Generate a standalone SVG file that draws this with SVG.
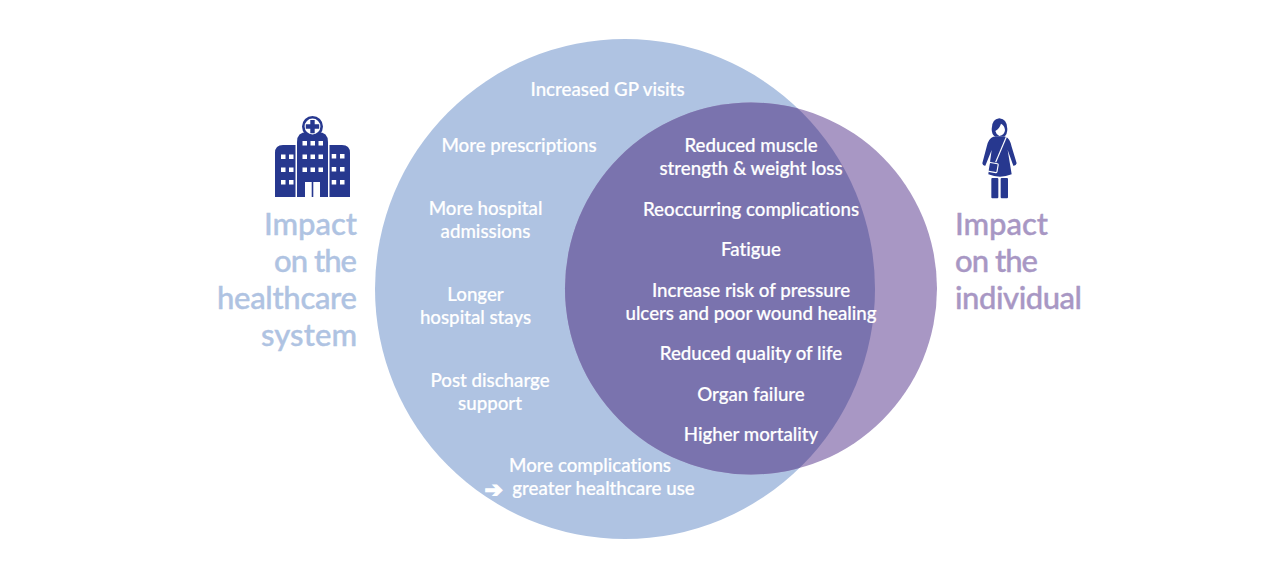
<svg xmlns="http://www.w3.org/2000/svg" width="1280" height="575" viewBox="0 0 1280 575">
<style>
text{font-family:Lato,"Noto Sans","Liberation Sans",sans-serif;font-variant-ligatures:none}
.l{fill:#fff;stroke:#fff;stroke-width:.2px;font-size:18.7px;font-weight:500;text-anchor:middle}
.ta{fill:#afc3e2;stroke:#afc3e2;stroke-width:.4px;font-size:31px;font-weight:500}
.tb{fill:#a897c4;stroke:#a897c4;stroke-width:.4px;font-size:31px;font-weight:500}
.ic{fill:#27388f}
</style>
<defs>
<clipPath id="cb"><circle cx="625" cy="289" r="250"/></clipPath>
</defs>
<rect width="1280" height="575" fill="#fff"/>
<g id="venn">
<circle id="healthcare-circle" cx="625" cy="289" r="250" fill="#afc3e2"/>
<circle id="individual-circle" cx="751" cy="288.500" r="186" fill="#a897c4"/>
<circle id="overlap" cx="751" cy="288.500" r="186" fill="#7a73ae" clip-path="url(#cb)"/>
</g>
<g id="connectors"/>
<g id="hospital-icon">
<path class="ic" d="M275 197V153q0-8 8-8h12.500v52zM350 197V153q0-8-8-8h-12.500v52z"/>
<path class="ic" d="M297 197V142q0-10 10-10h11q10 0 10 10v55z"/>
<circle cx="312.500" cy="126.500" r="9.200" fill="#fff" stroke="#27388f" stroke-width="2.600"/>
<path class="ic" d="M310.300 120h4.400v4.300h4.500v4.400h-4.500v4.600h-4.400v-4.600h-4.500v-4.400h4.500z"/>
<g fill="#fff">
<rect x="281" y="154.500" width="4.500" height="4.500"/><rect x="289" y="154.500" width="4.500" height="4.500"/>
<rect x="281" y="167.500" width="4.500" height="4.500"/><rect x="289" y="167.500" width="4.500" height="4.500"/>
<rect x="281" y="180" width="4.500" height="4.500"/><rect x="289" y="180" width="4.500" height="4.500"/>
<rect x="331.700" y="154" width="4.500" height="4.500"/><rect x="340" y="154" width="4.500" height="4.500"/>
<rect x="331.700" y="167" width="4.500" height="4.500"/><rect x="340" y="167" width="4.500" height="4.500"/>
<rect x="331.700" y="180" width="4.500" height="4.500"/><rect x="340" y="180" width="4.500" height="4.500"/>
<rect x="302.500" y="141" width="4.500" height="4.500"/><rect x="310.500" y="141" width="4.500" height="4.500"/><rect x="318.500" y="141" width="4.500" height="4.500"/>
<rect x="302.500" y="154.500" width="4.500" height="4.500"/><rect x="310.500" y="154.500" width="4.500" height="4.500"/><rect x="318.500" y="154.500" width="4.500" height="4.500"/>
<rect x="302.500" y="167.500" width="4.500" height="4.500"/><rect x="310.500" y="167.500" width="4.500" height="4.500"/><rect x="318.500" y="167.500" width="4.500" height="4.500"/>
<rect x="305" y="182" width="6.700" height="15"/><rect x="313.300" y="182" width="6.700" height="15"/>
</g>
</g>
<g id="person-icon" transform="translate(960 105) scale(.33333)">
<path class="ic" d="M100 95Q85 100 80 125L67 175Q68 183 76 182L95 135 85 208Q120 222 155 208L143 135 160 182Q168 183 170 175L155 125Q150 100 137 95Z"/>
<path class="ic" d="M118 40Q95 42 95 72 95 88 105 95H133Q142 88 142 72 142 42 118 40Z"/>
<path fill="#fff" d="M123 56Q133 60 135 75 134 90 118 93 108 88 106 78 118 72 123 56Z"/>
<rect class="ic" x="94" y="219" width="21" height="61" rx="3"/>
<rect class="ic" x="122" y="219" width="22" height="61" rx="3"/>
<path d="M139 96 107 172" stroke="#fff" stroke-width="3.500" fill="none"/>
<rect x="86" y="174" width="27" height="27" rx="3" class="ic" stroke="#fff" stroke-width="3.500" transform="rotate(10 99 187)"/>
</g>
<g id="label-healthcare">
<text class="ta" x="264" y="235" textLength="93">Impact</text>
<text class="ta" x="274" y="272" textLength="83">on the</text>
<text class="ta" x="217" y="309" textLength="140">healthcare</text>
<text class="ta" x="261" y="346" textLength="96">system</text>
</g>
<g id="label-individual">
<text class="tb" x="955" y="235" textLength="93">Impact</text>
<text class="tb" x="955" y="272" textLength="83">on the</text>
<text class="tb" x="955" y="309" textLength="127">individual</text>
</g>
<g id="items-healthcare">
<text class="l" x="607.500" y="96">Increased GP visits</text>
<text class="l" x="519" y="152">More prescriptions</text>
<text class="l" x="485.500" y="215">More hospital</text>
<text class="l" x="485.500" y="238">admissions</text>
<text class="l" x="475.500" y="301">Longer</text>
<text class="l" x="475.500" y="324">hospital stays</text>
<text class="l" x="490" y="387">Post discharge</text>
<text class="l" x="490" y="410">support</text>
<text class="l" x="590" y="472">More complications</text>
<text class="l" x="603.500" y="495">greater healthcare use</text>
<text x="484.500" y="497" font-size="22" font-weight="700" fill="#fff" stroke="#fff" stroke-width="1.200" style="font-family:'DejaVu Sans',sans-serif">➔</text>
</g>
<g id="items-overlap">
<text class="l" x="751" y="152">Reduced muscle</text>
<text class="l" x="751" y="175">strength &amp; weight loss</text>
<text class="l" x="751" y="215.500">Reoccurring complications</text>
<text class="l" x="751" y="256">Fatigue</text>
<text class="l" x="751" y="296.500">Increase risk of pressure</text>
<text class="l" x="751" y="319.500">ulcers and poor wound healing</text>
<text class="l" x="751" y="360">Reduced quality of life</text>
<text class="l" x="751" y="400.500">Organ failure</text>
<text class="l" x="751" y="441">Higher mortality</text>
</g>
</svg>
